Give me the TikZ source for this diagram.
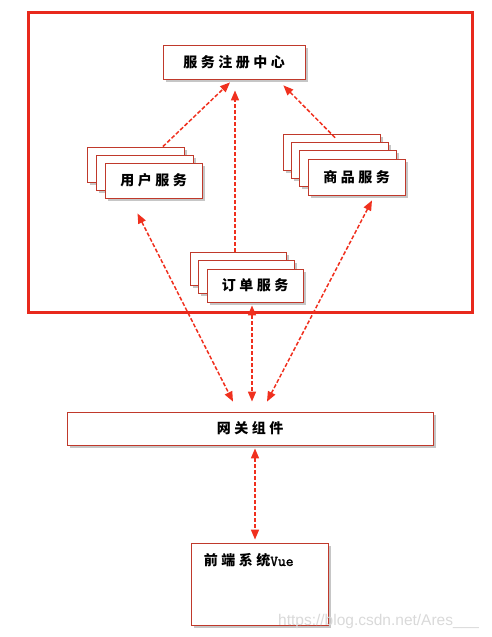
\documentclass[tikz,border=0pt]{standalone}
\usepackage{fontspec}
\newfontfamily\cjk{Noto Sans CJK SC}[LetterSpace=25]
\newfontfamily\vuefont{Latin Modern Mono}[FakeBold=2]
\newfontfamily\wmfont{Liberation Sans}
\usepackage{xcolor}
\usepackage{tikz}
\usetikzlibrary{arrows.meta,calc,shadows}
\definecolor{framered}{HTML}{E8291C}
\definecolor{boxred}{HTML}{C0392B}
\definecolor{arrred}{HTML}{F0301E}

\begin{document}
\begin{tikzpicture}[x=1pt, y=-1pt,
  n/.style={draw=boxred, fill=white, line width=0.8pt, inner sep=0pt,
    drop shadow={shadow xshift=2.5pt, shadow yshift=-2.5pt, opacity=.45},
    font=\cjk\bfseries\fontsize{14}{16}\selectfont},
  frame/.style={draw=framered, line width=3pt},
  arr/.style={draw=arrred, line width=1.5pt, dash pattern=on 4pt off 2pt,
    -{Triangle[length=10pt, width=8pt]}},
  darr/.style={arr, {Triangle[length=10pt, width=8pt]}-{Triangle[length=10pt, width=8pt]}}
]
\useasboundingbox (0,0) rectangle (492,637);

\draw[frame] (28,12) rectangle (472,312);

\node[n, minimum width=142pt, minimum height=34pt] (reg) at (234,62) {服务注册中心};

\foreach \i in {2,1}
  \node[n, minimum width=97pt, minimum height=35pt] (u\i) at (153.5-9*\i, 180.5-8*\i) {};
\node[n, minimum width=97pt, minimum height=35pt] (u0) at (153.5,180.5) {用户服务};

\foreach \i in {3,2,1}
  \node[n, minimum width=97pt, minimum height=36pt] (g\i) at (356.5-8.3*\i, 177-8.3*\i) {};
\node[n, minimum width=97pt, minimum height=36pt] (g0) at (356.5,177) {商品服务};

\foreach \i in {2,1}
  \node[n, minimum width=96pt, minimum height=33pt] (o\i) at (255-8.5*\i, 285.5-8.5*\i) {};
\node[n, minimum width=96pt, minimum height=33pt] (o0) at (255,285.5) {订单服务};

\node[n, minimum width=366pt, minimum height=33pt] (gw) at (250,428.5) {网关组件};

\node[n, minimum width=137pt, minimum height=82pt] (fe) at (259.5,584) {};
\node[font=\cjk\bfseries\fontsize{14}{16}\selectfont, anchor=west, inner sep=0pt] (fet)
  at ($(fe.north west)+(13,18)$) {前端系统{\vuefont\fontsize{15}{16}\selectfont Vue}};

\node[font=\wmfont\fontsize{15.5}{17}\selectfont, text=gray!30, anchor=west, inner sep=0pt] (wm)
  at (278,621) {https://blog.csdn.net/Ares\_\_\_};

\draw[arr] ($(u2.north west)!0.78!(u2.north east)$) -- ($(reg.south)+(-4,3)$);
\draw[arr] ($(o2.north)+(-3,0)$) -- ($(reg.south)+(1,11)$);
\draw[arr] ($(g3.north)+(3.5,4)$) -- ($(reg.south east)+(-22,6)$);

\draw[darr] ($(u0.south)+(-16,15)$) -- ($(gw.north)+(-17,-10)$);
\draw[darr] ($(o0.south)+(-3,3)$) -- ($(gw.north)+(2,-10)$);
\draw[darr] ($(g0.south)+(15.5,5)$) -- ($(gw.north)+(17,-10)$);
\draw[darr] ($(gw.south)+(5,3)$) -- ($(fe.north)+(-4.5,-3)$);
\end{tikzpicture}
\end{document}
